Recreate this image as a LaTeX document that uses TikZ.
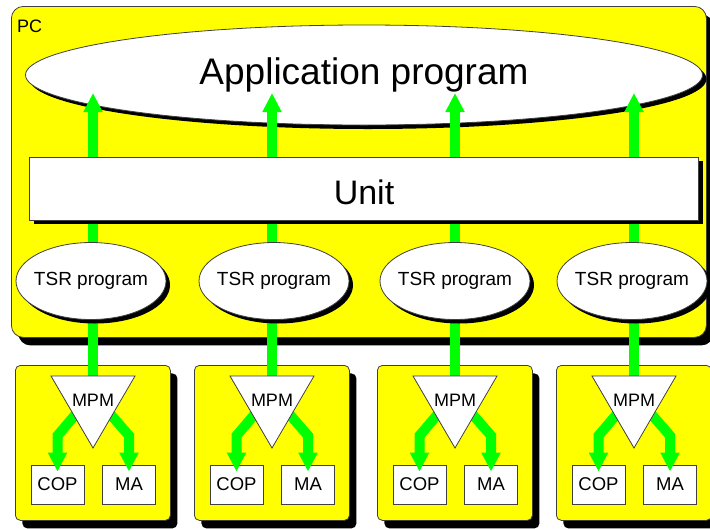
\documentclass[tikz,border=0pt]{standalone}
\usepackage{fontspec}
\setmainfont{Liberation Sans}
\usetikzlibrary{shapes.geometric,shadows,arrows.meta,calc}
\definecolor{pcyellow}{RGB}{255,255,0}
\definecolor{flowgreen}{RGB}{0,255,0}
\tikzset{
  bigshadow/.style={drop shadow={shadow xshift=7pt,shadow yshift=-8pt,fill=black,opacity=1}},
  smallshadow/.style={drop shadow={shadow xshift=4pt,shadow yshift=-4pt,fill=black,opacity=1}},
  frame/.style={draw=black!75,line width=0.8pt},
  yellowbox/.style={frame,fill=pcyellow,rounded corners=5pt,bigshadow,inner sep=0pt},
  oval/.style={ellipse,frame,fill=white,smallshadow,inner sep=0pt},
  tsr/.style={oval,inner xsep=-5pt,minimum width=150pt,minimum height=77pt,font=\fontsize{19}{21}\selectfont},
  whitebox/.style={rectangle,frame,fill=white,inner sep=0pt,minimum width=53pt,minimum height=39pt,font=\fontsize{18.5}{20}\selectfont},
  trilabel/.style={inner sep=0pt,font=\fontsize{18}{20}\selectfont},
  flow/.style={draw=flowgreen,line width=10pt,miter limit=10,-{Triangle[width=18pt,length=19pt]}},
}
\begin{document}
\begin{tikzpicture}[x=1pt,y=-1pt]
\useasboundingbox (0,0) rectangle (710,528);

% the PC frame
\node[yellowbox,rounded corners=12pt,minimum width=695pt,minimum height=331pt,anchor=north west]
  (pc) at (11,6) {};
\node[anchor=base west,inner sep=0pt,font=\fontsize{18}{20}\selectfont] (pclabel) at (17,32) {PC};

% the four coprocessor boards
\foreach \c [count=\i] in {93,272,455,634}{
  \node[yellowbox,minimum width=155pt,minimum height=155pt,anchor=north west]
    (board\i) at (\c-78,365) {};
}

% application program
\node[oval,minimum width=677pt,minimum height=100pt,font=\fontsize{37}{42}\selectfont]
  (app) at (364,75) {Application program};

% vertical flows from each board up to the application
\foreach \c [count=\i] in {93,272,455,634}{
  \coordinate (feed\i) at (\c,377);
  \coordinate (top\i) at (\c,93);
  \draw[flow] (feed\i) -- (top\i);
}

% unit bar
\node[rectangle,frame,fill=white,smallshadow,minimum width=669pt,minimum height=63pt,inner sep=0pt,
  text height=32pt,text depth=0pt,font=\fontsize{34}{38}\selectfont]
  (unit) at (364,188.5) {Unit};

% resident programs
\foreach \x [count=\i] in {91,274,455,632}{
  \node[tsr] (tsr\i) at (\x,281) {TSR program};
}

% board contents: MPM triangle feeding COP and MA
\foreach \c [count=\i] in {93,272,455,634}{
  \node[whitebox] (cop\i) at (\c-35.5,484.5) {COP};
  \node[whitebox] (ma\i) at (\c+36,484.5) {MA};
  \coordinate (mpmc\i) at (\c,400);
  \draw[flow] ($(mpmc\i)+(-12,8)$) -- ($(cop\i.north)+(0,-29)$) -- ($(cop\i.north)+(0,7)$);
  \draw[flow] ($(mpmc\i)+(12,8)$) -- ($(ma\i.north)+(0,-29)$) -- ($(ma\i.north)+(0,7)$);
  \draw[frame,fill=white] ($(mpmc\i)+(-42,-24)$) -- ($(mpmc\i)+(42,-24)$) -- ($(mpmc\i)+(0,48)$) -- cycle;
  \node[trilabel] (mpm\i) at (mpmc\i) {MPM};
}
\end{tikzpicture}
\end{document}
